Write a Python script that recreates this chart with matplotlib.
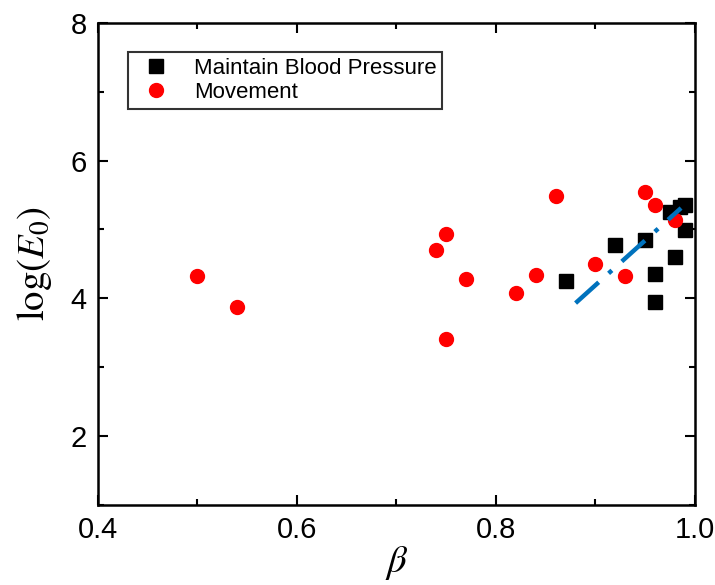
import matplotlib
matplotlib.use("Agg")
import matplotlib.pyplot as plt
from matplotlib.ticker import MultipleLocator

plt.rcParams['font.family'] = ['Liberation Sans', 'DejaVu Sans']
plt.rcParams['mathtext.fontset'] = 'stix'

# Maintain Blood Pressure (black squares)
bp_beta = [0.87, 0.92, 0.95, 0.96, 0.96, 0.98, 0.975, 0.99, 0.99, 0.985]
bp_logE = [4.25, 4.77, 4.84, 4.35, 3.94, 4.60, 5.25, 5.36, 4.99, 5.32]

# Movement (red circles)
mv_beta = [0.50, 0.54, 0.74, 0.75, 0.75, 0.77, 0.82, 0.84, 0.86, 0.90, 0.93, 0.95, 0.96, 0.98]
mv_logE = [4.32, 3.87, 4.70, 4.94, 3.41, 4.28, 4.07, 4.34, 5.48, 4.50, 4.33, 5.55, 5.35, 5.13]

# fitted trend line (blue dash-dot)
fit_beta = [0.88, 0.986]
fit_logE = [3.93, 5.31]

fig = plt.figure(figsize=(7.15, 5.85), dpi=100)
ax = fig.add_axes([0.137, 0.137, 0.835, 0.824])

ax.plot(fit_beta, fit_logE, color='#0072BD', lw=3.2, ls=(0, (7, 3, 1, 3)), zorder=3)
ax.plot(bp_beta, bp_logE, 's', color='black', ms=10, ls='none',
        label='Maintain Blood Pressure', zorder=2)
ax.plot(mv_beta, mv_logE, 'o', color='red', ms=10, ls='none',
        label='Movement', zorder=2)

ax.set_xlim(0.4, 1.0)
ax.set_ylim(1, 8)
ax.xaxis.set_minor_locator(MultipleLocator(0.1))
ax.yaxis.set_major_locator(MultipleLocator(2))
ax.yaxis.set_minor_locator(MultipleLocator(1))
ax.set_xticks([0.4, 0.6, 0.8, 1.0])
ax.set_xticklabels(['0.4', '0.6', '0.8', '1.0'])

ax.tick_params(which='both', direction='in', top=True, right=True, width=1.5)
ax.tick_params(which='major', length=7, labelsize=21, pad=8)
ax.tick_params(which='minor', length=4)
for s in ax.spines.values():
    s.set_linewidth(1.8)

ax.set_xlabel(r'$\beta$', fontsize=28, labelpad=0)
ax.set_ylabel(r'$\log(E_0)$', fontsize=28, labelpad=12)

leg = ax.legend(loc='upper left', bbox_to_anchor=(0.032, 0.962), fontsize=16,
                frameon=True, fancybox=False, edgecolor='black',
                handletextpad=0.7, borderpad=0.25, labelspacing=0.15,
                handlelength=2.0)
leg.get_frame().set_linewidth(1.5)

fig.savefig('out.png', dpi=100)
